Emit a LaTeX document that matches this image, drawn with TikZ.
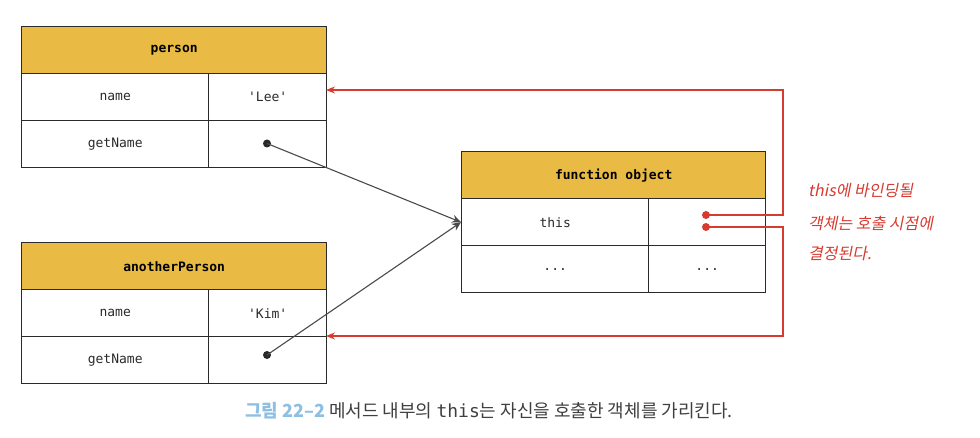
\documentclass[tikz,border=0pt]{standalone}
\usepackage{fontspec}
\setmainfont{Noto Sans CJK KR}
\setmonofont{DejaVu Sans Mono}
\newfontfamily\krfont{Noto Sans CJK KR}
\newfontfamily\krslant[FakeSlant=0.2]{Noto Sans CJK KR}
\usetikzlibrary{arrows.meta}
\definecolor{hdr}{HTML}{E9BB45}
\definecolor{redc}{HTML}{D63B30}
\definecolor{capblue}{HTML}{8DBFE3}
\definecolor{ink}{HTML}{2A2A2A}
\begin{document}
\begin{tikzpicture}[x=1pt,y=-1pt,
  cell/.style={draw=ink, line width=1.4pt, anchor=north west, inner sep=0pt,
    minimum height=47pt, font=\ttfamily\fontsize{13}{15}\selectfont, text=ink},
  head/.style={cell, fill=hdr, font=\ttfamily\bfseries\fontsize{13}{15}\selectfont, text=black},
  dot/.style={circle, fill=#1, inner sep=0pt, minimum size=8pt},
  ptr/.style={draw=ink!85, line width=1.1pt, -{Stealth[length=9pt,width=8pt]}},
  redptr/.style={draw=redc, line width=1.2pt, -{Stealth[length=9pt,width=7pt]}}]
\useasboundingbox (0,0) rectangle (980,438);
% person
\node[head, minimum width=305pt] (ph) at (21,26) {person};
\node[cell, minimum width=187pt] (pn) at (21,73) {name};
\node[cell, minimum width=118pt] (pv) at (208,73) {'Lee'};
\node[cell, minimum width=187pt] (pg) at (21,120) {getName};
\node[cell, minimum width=118pt] (pgv) at (208,120) {};
% anotherPerson
\node[head, minimum width=305pt] (ah) at (21,242) {anotherPerson};
\node[cell, minimum width=187pt] (an) at (21,289) {name};
\node[cell, minimum width=118pt] (av) at (208,289) {'Kim'};
\node[cell, minimum width=187pt] (ag) at (21,336) {getName};
\node[cell, minimum width=118pt] (agv) at (208,336) {};
% function object
\node[head, minimum width=304pt] (fh) at (461,151) {function object};
\node[cell, minimum width=187pt] (ft) at (461,198) {this};
\node[cell, minimum width=117pt] (ftv) at (648,198) {};
\node[cell, minimum width=187pt] (fd) at (461,245) {...};
\node[cell, minimum width=117pt] (fdv) at (648,245) {...};
% dots
\node[dot=ink] (pd) at (267,143.5) {};
\node[dot=ink] (ad) at (267,355) {};
\node[dot=redc] (r1) at (706,215) {};
\node[dot=redc] (r2) at (706,227) {};
% black pointers
\draw[ptr] (pd.center) -- (ft.west);
\draw[ptr] (ad.center) -- (ft.west);
% red pointers
\coordinate (k1) at (783,90);
\coordinate (k2) at (783,336);
\coordinate (t1) at (326,90);
\coordinate (t2) at (326,336);
\draw[redptr] (r1.center) -| (k1) -- (t1);
\draw[redptr] (r2.center) -| (k2) -- (t2);
% red note
\node[anchor=west, text=redc, font=\krslant\fontsize{16}{18}\selectfont, inner sep=0pt] (n1) at (808,191) {this에 바인딩될};
\node[anchor=west, text=redc, font=\krslant\fontsize{16}{18}\selectfont, inner sep=0pt] (n2) at (808,223) {객체는 호출 시점에};
\node[anchor=west, text=redc, font=\krslant\fontsize{16}{18}\selectfont, inner sep=0pt] (n3) at (808,254) {결정된다.};
% caption
\node[font=\krfont\fontsize{18}{20}\selectfont, text=ink!90, inner sep=0pt] (cap) at (489,411)
  {\textcolor{capblue}{\textbf{그림 22–2}} 메서드 내부의 {\ttfamily this}는 자신을 호출한 객체를 가리킨다.};
\end{tikzpicture}
\end{document}
